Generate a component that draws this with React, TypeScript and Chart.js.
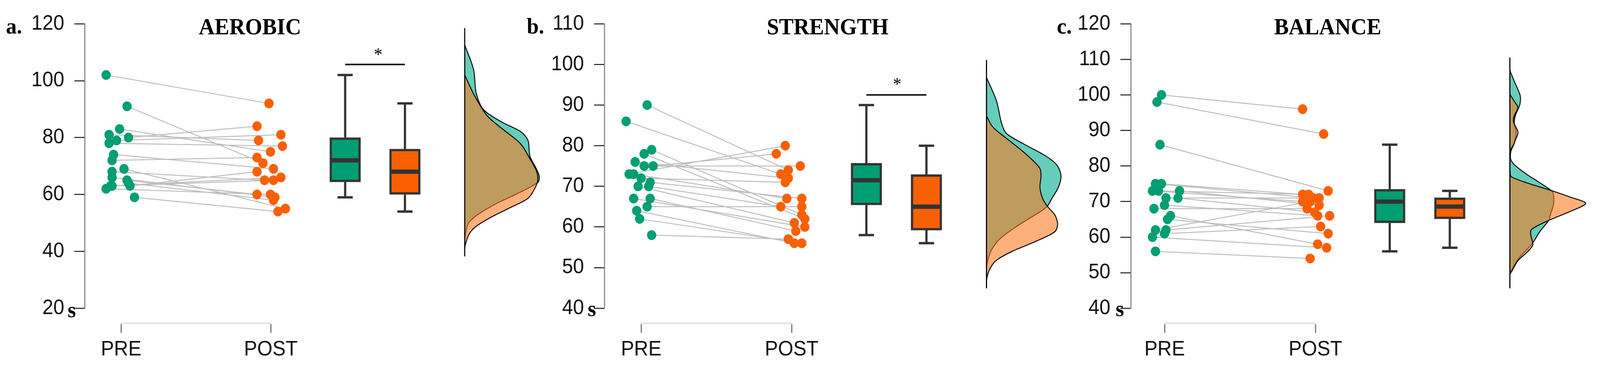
import React, { useEffect, useRef } from "react";
import { Chart, registerables } from "chart.js";

Chart.register(...registerables);

// ---------------- DATA ----------------
const categories = ["PRE", "POST"];

// a. AEROBIC
const aerobicTicks = [20, 40, 60, 80, 100, 120];
const aerobicPre = [102, 91, 83, 81, 80, 79, 78, 74, 72, 69, 68, 66, 65, 64, 63, 63, 63, 62, 59];
const aerobicPreX = [0.9, 1.04, 0.99, 0.92, 1.05, 0.97, 0.92, 0.95, 0.94, 1.02, 0.94, 0.94, 1.04, 1.05, 1.06, 0.93, 0.94, 0.9, 1.09];
const aerobicPost = [92, 71, 75, 79, 84, 81, 77, 69, 73, 55, 65, 59, 60, 58, 68, 66, 65, 60, 54];
const aerobicPostX = [1.99, 1.95, 2.0, 1.92, 1.91, 2.07, 2.08, 2.02, 1.91, 2.1, 1.96, 2.03, 1.91, 2.02, 1.91, 2.07, 2.02, 2.0, 2.05];
// min, q1, median, q3, max
const aerobicBoxPre = [59, 64.4, 72, 80, 102];
const aerobicBoxPost = [54, 60, 68, 76, 92];
// [value, density]
const aerobicPreDensity = [
  [112.6, 0], [103.9, 24], [95.7, 31], [89.8, 51], [85.4, 101], [82.1, 151], [78.9, 171], [73.4, 176],
  [69.6, 191], [66.4, 201], [64.2, 197], [59.8, 134], [56.7, 84], [52.8, 34], [50.1, 11], [47.3, 4], [44.2, 0],
];
const aerobicPostDensity = [
  [102.0, 0], [94.6, 27], [87.6, 61], [82.1, 111], [77.8, 151], [72.3, 177], [68.1, 194], [65.3, 197],
  [62.6, 191], [58.7, 171], [55.0, 117], [51.7, 67], [48.4, 27], [45.8, 11], [42.5, 2], [40.9, 0],
];
const aerobicDensityRange = [118.5, 38.2];
const aerobicSignificance = 105.7;

// b. STRENGTH
const strengthTicks = [40, 50, 60, 70, 80, 90, 100, 110];
const strengthPre = [90, 86, 79, 78, 76, 75, 75, 73, 73, 72, 71, 70, 70, 67, 67, 65, 64, 62, 58];
const strengthPreX = [1.04, 0.9, 1.07, 1.02, 0.96, 1.02, 1.08, 0.92, 0.95, 1.0, 1.06, 0.98, 1.05, 0.95, 1.06, 1.04, 0.97, 0.99, 1.07];
const strengthPost = [74, 73, 63, 62, 72, 75, 78, 80, 67, 71, 67, 61, 65, 60, 59, 65, 56, 56, 57];
const strengthPostX = [1.98, 1.93, 2.07, 2.09, 1.98, 2.06, 1.9, 1.96, 1.97, 1.96, 2.07, 2.02, 1.93, 2.09, 2.03, 2.07, 2.02, 2.07, 1.98];
const strengthBoxPre = [58, 65.4, 71.5, 75.7, 90];
const strengthBoxPost = [56, 59.2, 65, 72.9, 80];
const strengthPreDensity = [
  [96.8, 0], [91.0, 27], [85.4, 41], [83.0, 54], [80.4, 101], [77.4, 161], [75.1, 191], [72.5, 201],
  [69.8, 194], [67.1, 177], [65.1, 164], [63.7, 144], [60.3, 84], [56.9, 34], [53.9, 11], [51.2, 2], [50.1, 0],
];
const strengthPostDensity = [
  [87.3, 0], [84.6, 17], [82.0, 51], [78.9, 94], [76.2, 127], [74.4, 144], [72.5, 147], [69.8, 144],
  [67.1, 151], [65.1, 164], [63.0, 184], [60.7, 192], [58.8, 184], [56.5, 134], [53.9, 67], [51.6, 24],
  [49.3, 7], [47.4, 1], [46.7, 0],
];
const strengthDensityRange = [101.1, 44.9];
const strengthSignificance = 92.5;

// c. BALANCE
const balanceTicks = [40, 50, 60, 70, 80, 90, 100, 110, 120];
const balancePre = [100, 98, 86, 75, 75, 73, 73, 73, 71, 71, 69, 68, 66, 65, 62, 62, 61, 60, 56];
const balancePreX = [0.98, 0.95, 0.97, 0.98, 0.94, 0.92, 0.96, 1.1, 1.01, 1.09, 1.0, 0.93, 1.04, 1.02, 0.94, 1.01, 1.0, 0.92, 0.94];
const balancePost = [96, 89, 73, 72, 71, 70, 72, 69, 71, 67, 66, 68, 58, 61, 70, 66, 63, 57, 54];
const balancePostX = [1.92, 2.06, 2.09, 1.92, 1.99, 1.92, 1.96, 2.03, 2.03, 2.0, 2.02, 1.95, 2.02, 2.09, 1.97, 2.1, 2.04, 2.08, 1.97];
const balanceBoxPre = [56, 64, 70, 73.5, 86];
const balanceBoxPost = [57, 65.1, 68.6, 71.1, 73];
const balancePreDensity = [
  [106.9, 0], [103.8, 12], [99.8, 28], [97.3, 27], [94.2, 15], [92.0, 12], [89.5, 17], [86.4, 12],
  [84.2, 3], [82.0, 2], [80.4, 12], [77.7, 45], [75.5, 78], [73.1, 112], [72.0, 118], [69.1, 118],
  [66.5, 110], [64.7, 105], [61.7, 82], [58.4, 62], [56.4, 45], [53.8, 22], [50.8, 5], [50.0, 0],
];
const balancePostDensity = [
  [100.2, 0], [98.2, 12], [96.4, 22], [94.2, 12], [92.4, 10], [89.5, 22], [87.3, 15], [86.0, 10],
  [84.7, 3], [83.3, 0.5], [77.7, 1], [76.9, 5], [75.3, 45], [73.1, 112], [71.2, 165], [69.5, 205],
  [67.3, 165], [64.7, 105], [62.1, 58], [60.4, 57], [57.8, 62], [55.6, 45], [53.4, 22], [50.0, 3], [49.5, 0],
];
const balanceDensityRange = [110.5, 45.6];
const balanceSignificance: number | null = null;

// ---------------- LAYOUT / STYLE ----------------
const W = 4307;
const H = 956;
const PLOT_TOP = 61;
const PLOT_BOTTOM = 790;
const XLINE_Y = 828;
const Y_AXIS_W = 175;
const X_AXIS_H = 120;
const BOX_POS = [2.5, 2.9];
const DENSITY_BASE = 3.3;
const CAP_HALF = 0.051;
const MEDIAN_HALF = 0.1;

const SANS = "'Liberation Sans', Arial, sans-serif";
const SERIF = "'Liberation Serif', 'Times New Roman', serif";
const GREEN = "#009E73";
const ORANGE = "#F96000";
const DARK = "#333333";

const panels = [
  {
    letter: "a.", title: "AEROBIC", ticks: aerobicTicks,
    pre: aerobicPre, preX: aerobicPreX, post: aerobicPost, postX: aerobicPostX,
    boxPre: aerobicBoxPre, boxPost: aerobicBoxPost,
    densPre: aerobicPreDensity, densPost: aerobicPostDensity, densRange: aerobicDensityRange,
    sig: aerobicSignificance as number | null,
    L: { canvasLeft: 0, canvasWidth: 1500, yAxisX: 228, prePx: 326, postPx: 729, chartRight: 1490,
      titleX: 673, letterX: 16, sX: 182, sBase: 814, starX: 1018, starTop: 117 },
  },
  {
    letter: "b.", title: "STRENGTH", ticks: strengthTicks,
    pre: strengthPre, preX: strengthPreX, post: strengthPost, postX: strengthPostX,
    boxPre: strengthBoxPre, boxPost: strengthBoxPost,
    densPre: strengthPreDensity, densPost: strengthPostDensity, densRange: strengthDensityRange,
    sig: strengthSignificance as number | null,
    L: { canvasLeft: 1400, canvasWidth: 1530, yAxisX: 1627, prePx: 1726, postPx: 2131, chartRight: 2920,
      titleX: 2228, letterX: 1418, sX: 1582, sBase: 811, starX: 2415, starTop: 193 },
  },
  {
    letter: "c.", title: "BALANCE", ticks: balanceTicks,
    pre: balancePre, preX: balancePreX, post: balancePost, postX: balancePostX,
    boxPre: balanceBoxPre, boxPost: balanceBoxPost,
    densPre: balancePreDensity, densPost: balancePostDensity, densRange: balanceDensityRange,
    sig: balanceSignificance,
    L: { canvasLeft: 2800, canvasWidth: 1507, yAxisX: 3044, prePx: 3135, postPx: 3541, chartRight: 4300,
      titleX: 3574, letterX: 2845, sX: 3003, sBase: 811, starX: 0, starTop: 0 },
  },
];

type Panel = (typeof panels)[number];

function PanelChart({ p }: { p: Panel }) {
  const mainRef = useRef<HTMLCanvasElement>(null);
  const axisRef = useRef<HTMLCanvasElement>(null);

  useEffect(() => {
    const L = p.L;
    const u = L.postPx - L.prePx;
    const xMin = 1 - (L.prePx - L.yAxisX) / u;
    const xMax = xMin + (L.chartRight - L.yAxisX) / u;
    const yMin = p.ticks[0];
    const yMax = p.ticks[p.ticks.length - 1];

    const pairLines: any[] = [];
    p.pre.forEach((v, i) => {
      pairLines.push({ x: p.preX[i], y: v }, { x: p.postX[i], y: p.post[i] }, { x: p.postX[i], y: null });
    });

    const boxes = [p.boxPre, p.boxPost];
    const whiskers: any[] = [];
    const medians: any[] = [];
    boxes.forEach((b, k) => {
      const xc = BOX_POS[k];
      whiskers.push(
        { x: xc, y: b[3] }, { x: xc, y: b[4] }, { x: xc, y: null },
        { x: xc, y: b[1] }, { x: xc, y: b[0] }, { x: xc, y: null },
        { x: xc - CAP_HALF, y: b[4] }, { x: xc + CAP_HALF, y: b[4] }, { x: xc, y: null },
        { x: xc - CAP_HALF, y: b[0] }, { x: xc + CAP_HALF, y: b[0] }, { x: xc, y: null },
      );
      medians.push({ x: xc - MEDIAN_HALF, y: b[2] }, { x: xc + MEDIAN_HALF, y: b[2] }, { x: xc, y: null });
    });

    const dens = (d: number[][]) => d.map(([v, w]) => ({ x: DENSITY_BASE + w / u, y: v }));

    const datasets: any[] = [
      {
        type: "line", data: pairLines, borderColor: "#BEBEBE", borderWidth: 2.5,
        pointRadius: 0, spanGaps: false, tension: 0, order: 10,
      },
      {
        type: "line", data: dens(p.densPre), borderColor: "#000", borderWidth: 2.5,
        backgroundColor: "rgba(0,172,140,0.6)", fill: "shape", pointRadius: 0, tension: 0.3, order: 9,
      },
      {
        type: "line", data: dens(p.densPost), borderColor: "#000", borderWidth: 2.5,
        backgroundColor: "rgba(251,121,31,0.59)", fill: "shape", pointRadius: 0, tension: 0.3, order: 8,
      },
      {
        type: "line",
        data: [{ x: DENSITY_BASE, y: p.densRange[0] }, { x: DENSITY_BASE, y: p.densRange[1] }],
        borderColor: "#000", borderWidth: 3, pointRadius: 0, order: 7,
      },
      {
        type: "scatter", data: p.pre.map((v, i) => ({ x: p.preX[i], y: v })),
        backgroundColor: GREEN, borderWidth: 0, pointRadius: 12.5, order: 6,
      },
      {
        type: "scatter", data: p.post.map((v, i) => ({ x: p.postX[i], y: v })),
        backgroundColor: ORANGE, borderWidth: 0, pointRadius: 12.5, order: 5,
      },
      {
        type: "line", data: whiskers, borderColor: DARK, borderWidth: 6, pointRadius: 0,
        spanGaps: false, borderCapStyle: "butt", order: 4,
      },
      {
        type: "bar",
        data: boxes.map((b, k) => ({ x: BOX_POS[k], y: [b[1], b[3]] })),
        backgroundColor: [GREEN, ORANGE], borderColor: DARK, borderWidth: 6,
        borderSkipped: false, barThickness: 83, grouped: false, order: 3,
      },
      {
        type: "line", data: medians, borderColor: DARK, borderWidth: 11, pointRadius: 0,
        spanGaps: false, borderCapStyle: "butt", order: 2,
      },
    ];
    if (p.sig !== null) {
      datasets.push({
        type: "line",
        data: [{ x: BOX_POS[0], y: p.sig }, { x: BOX_POS[1], y: p.sig }],
        borderColor: "#111", borderWidth: 4, pointRadius: 0, order: 1,
      });
    }

    const main = new Chart(mainRef.current as HTMLCanvasElement, {
      type: "scatter",
      data: { datasets },
      options: {
        animation: false,
        responsive: false,
        devicePixelRatio: 1,
        events: [],
        layout: {
          padding: {
            left: L.yAxisX - L.canvasLeft - Y_AXIS_W,
            right: L.canvasLeft + L.canvasWidth - L.chartRight,
            top: PLOT_TOP,
            bottom: H - PLOT_BOTTOM,
          },
        },
        plugins: { legend: { display: false }, tooltip: { enabled: false } },
        scales: {
          x: {
            type: "linear", display: false, min: xMin, max: xMax, offset: false,
            grid: { offset: false },
          },
          y: {
            type: "linear", min: yMin, max: yMax, beginAtZero: false,
            afterBuildTicks: (s: any) => { s.ticks = p.ticks.map((v) => ({ value: v })); },
            afterFit: (s: any) => { s.width = Y_AXIS_W; },
            border: { display: true, color: "#707070", width: 2.5 },
            grid: {
              display: true, drawOnChartArea: false, drawTicks: true, tickLength: 28,
              color: "#1a1a1a", lineWidth: 2.5,
            },
            ticks: { font: { family: SANS, size: 53 }, color: "#111", padding: 27 },
          },
        },
      } as any,
    });

    const axis = new Chart(axisRef.current as HTMLCanvasElement, {
      type: "scatter",
      data: { datasets: [] },
      options: {
        animation: false,
        responsive: false,
        devicePixelRatio: 1,
        events: [],
        layout: {
          padding: {
            left: L.prePx - L.canvasLeft,
            right: L.canvasLeft + L.canvasWidth - L.postPx,
            top: PLOT_TOP,
            bottom: H - XLINE_Y - X_AXIS_H,
          },
        },
        plugins: { legend: { display: false }, tooltip: { enabled: false } },
        scales: {
          x: {
            type: "linear", min: 1, max: categories.length, offset: false,
            afterBuildTicks: (s: any) => { s.ticks = categories.map((_, i) => ({ value: i + 1 })); },
            afterFit: (s: any) => { s.height = X_AXIS_H; },
            border: { display: true, color: "#e6e6e6", width: 5 },
            grid: {
              display: true, drawOnChartArea: false, drawTicks: true, tickLength: 25,
              color: "#555", lineWidth: 2.5, offset: false,
            },
            ticks: {
              font: { family: SANS, size: 53 }, color: "#111", padding: 12,
              maxRotation: 0, autoSkip: false,
              callback: (v: any) => categories[Math.round(Number(v)) - 1] ?? "",
            },
          },
          y: { display: false, min: 0, max: 1 },
        },
      } as any,
    });

    return () => {
      main.destroy();
      axis.destroy();
    };
  }, [p]);

  const L = p.L;
  const cs: React.CSSProperties = {
    position: "absolute", left: L.canvasLeft, top: 0, width: L.canvasWidth, height: H,
  };
  const serifBold: React.CSSProperties = {
    position: "absolute", fontFamily: SERIF, fontWeight: "bold", color: "#000",
    whiteSpace: "nowrap", lineHeight: 1, margin: 0,
  };
  return (
    <>
      <canvas ref={mainRef} width={L.canvasWidth} height={H} style={cs} />
      <canvas ref={axisRef} width={L.canvasWidth} height={H} style={cs} />
      <div style={{ ...serifBold, left: L.titleX, top: 88 - 0.8375 * 59, fontSize: 59, transform: "translateX(-50%)" }}>
        {p.title}
      </div>
      <div style={{ ...serifBold, left: L.letterX, top: 87 - 0.8375 * 58, fontSize: 58 }}>{p.letter}</div>
      <div style={{ ...serifBold, left: L.sX, top: L.sBase - 0.8375 * 58, fontSize: 58 }}>s</div>
      {p.sig !== null && (
        <div style={{ ...serifBold, fontWeight: "normal", left: L.starX, top: L.starTop, fontSize: 46, transform: "translateX(-50%)" }}>
          *
        </div>
      )}
    </>
  );
}

export default function App() {
  // The browser viewport may be narrower than the figure; squeeze horizontally to fit it.
  const vw = typeof window !== "undefined" ? window.innerWidth : W;
  const sx = Math.min(1, vw / W);
  return (
    <div style={{ position: "absolute", left: 0, top: 0, width: "100vw", height: H, overflow: "hidden", background: "#fff" }}>
      <div
        style={{
          position: "absolute", left: 0, top: 0, width: W, height: H,
          transform: `scale(${sx}, 1)`, transformOrigin: "0 0", background: "#fff",
        }}
      >
        {panels.map((p, i) => (
          <PanelChart key={i} p={p} />
        ))}
      </div>
    </div>
  );
}
